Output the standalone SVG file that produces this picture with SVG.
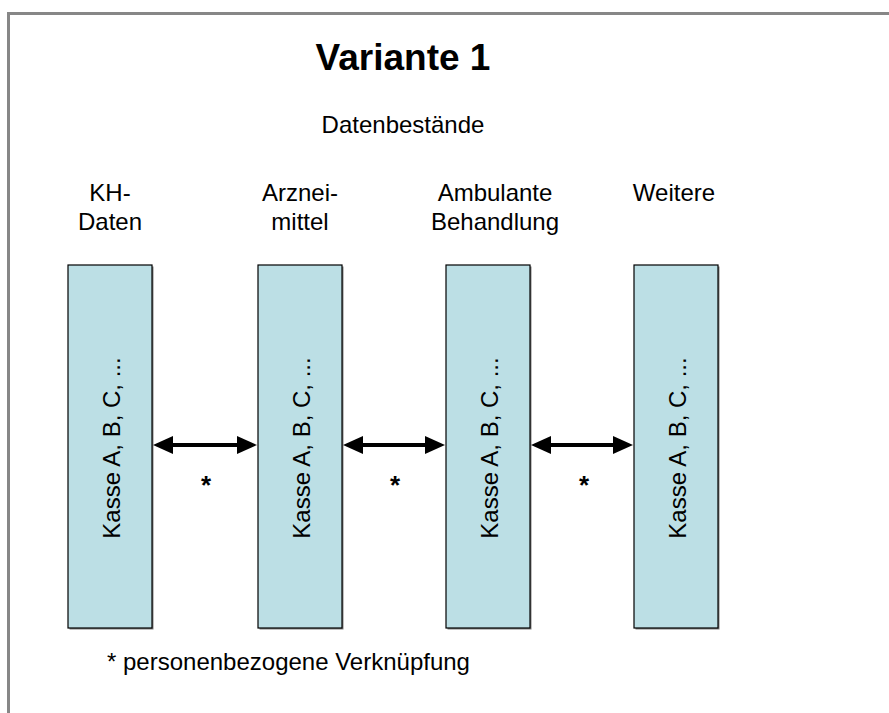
<svg xmlns="http://www.w3.org/2000/svg" width="889" height="713" viewBox="0 0 889 713">
<style>
text{font-family:"Liberation Sans",Arial,sans-serif;fill:#000}
.lbl{font-size:24px;text-anchor:middle}
.ast{font-size:26px;font-weight:bold;text-anchor:middle}
.box{fill:#bcdfe5;stroke:#000;stroke-width:1.2}
.shadow{fill:#808080}
.conn{stroke:#000;stroke-width:4;fill:none}
.ah{fill:#000}
</style>
<rect width="889" height="713" fill="#fff"/>
<rect x="8.5" y="13.5" width="900" height="720" fill="none" stroke="#878787" stroke-width="3"/>
<text x="403" y="70" font-size="37" font-weight="bold" text-anchor="middle">Variante 1</text>
<text class="lbl" x="403" y="133">Datenbestände</text>
<text class="lbl" x="110" y="201">KH-</text>
<text class="lbl" x="110" y="230">Daten</text>
<text class="lbl" x="300" y="201">Arznei-</text>
<text class="lbl" x="300" y="230">mittel</text>
<text class="lbl" x="495" y="201">Ambulante</text>
<text class="lbl" x="495" y="230">Behandlung</text>
<text class="lbl" x="674" y="201">Weitere</text>
<g id="n1"><rect class="shadow" x="69.5" y="266.5" width="84" height="363"/><rect class="box" x="68" y="265" width="84" height="363"/><text class="lbl" transform="translate(120 448) rotate(-90)">Kasse A, B, C, ...</text></g>
<g id="n2"><rect class="shadow" x="259.5" y="266.5" width="84" height="363"/><rect class="box" x="258" y="265" width="84" height="363"/><text class="lbl" transform="translate(310 448) rotate(-90)">Kasse A, B, C, ...</text></g>
<g id="n3"><rect class="shadow" x="447.5" y="266.5" width="84" height="363"/><rect class="box" x="446" y="265" width="84" height="363"/><text class="lbl" transform="translate(498 448) rotate(-90)">Kasse A, B, C, ...</text></g>
<g id="n4"><rect class="shadow" x="635.5" y="266.5" width="84" height="363"/><rect class="box" x="634" y="265" width="84" height="363"/><text class="lbl" transform="translate(686 448) rotate(-90)">Kasse A, B, C, ...</text></g>
<g id="connectors">
<line class="conn" x1="170" y1="445" x2="240" y2="445"/>
<polygon class="ah" points="153,445 173,436 173,454"/>
<polygon class="ah" points="257,445 237,436 237,454"/>
<line class="conn" x1="360" y1="445" x2="428" y2="445"/>
<polygon class="ah" points="343,445 363,436 363,454"/>
<polygon class="ah" points="445,445 425,436 425,454"/>
<line class="conn" x1="548" y1="445" x2="616" y2="445"/>
<polygon class="ah" points="531,445 551,436 551,454"/>
<polygon class="ah" points="633,445 613,436 613,454"/>
</g>
<text class="ast" x="206" y="494">*</text>
<text class="ast" x="395" y="494">*</text>
<text class="ast" x="584" y="494">*</text>
<text x="107" y="670" font-size="24">* personenbezogene Verknüpfung</text>
</svg>
